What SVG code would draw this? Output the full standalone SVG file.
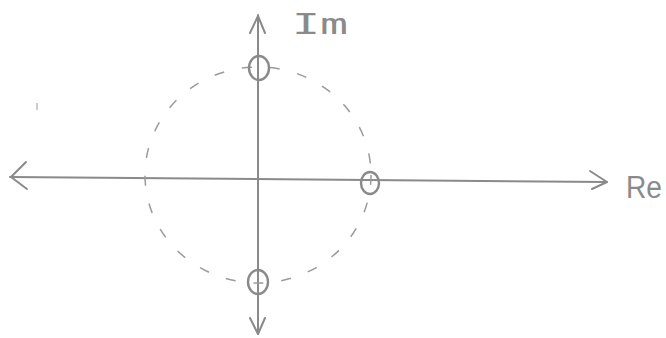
<svg xmlns="http://www.w3.org/2000/svg" width="666" height="338" viewBox="0 0 666 338">
<style>
.ax{stroke:#8a8a8a;stroke-width:2;fill:none;stroke-linecap:round;stroke-linejoin:round}
.uc{stroke:#9a9a9a;stroke-width:1.5;fill:none;stroke-dasharray:10 18}
.z{stroke:#8a8a8a;stroke-width:2.4;fill:none}
.lbl{fill:#8a8a8a}
</style>
<rect width="666" height="338" fill="#ffffff"/>
<g id="connectors">
<path class="ax" d="M10 177 L607 182"/>
<path class="ax" d="M26 162 L11 177 L27 189"/>
<path class="ax" d="M590 171 L607 182 L592 189"/>
<path class="ax" d="M258 15 L258 334"/>
<path class="ax" d="M250 33 L258 16 L265 33"/>
<path class="ax" d="M250 318 L258 334 L265 318"/>
</g>
<g id="unit-circle">
<ellipse class="uc" cx="258" cy="175" rx="113" ry="108"/>
</g>
<g id="zero-top"><ellipse class="z" cx="259" cy="68" rx="10" ry="12"/></g>
<g id="zero-right"><ellipse class="z" cx="370" cy="183" rx="9" ry="11"/></g>
<g id="zero-bottom"><ellipse class="z" cx="258" cy="282" rx="10" ry="12"/></g>
<g id="label-im"><text class="lbl" x="292" y="34" font-size="28" font-family="'DejaVu Sans Mono',monospace" textLength="56" lengthAdjust="spacingAndGlyphs">Im</text></g>
<g id="label-re"><text class="lbl" x="626" y="198" font-size="31" font-family="'Liberation Sans',sans-serif" textLength="36" lengthAdjust="spacingAndGlyphs">Re</text></g>
<path d="M37 103 L37 110" stroke="#bbbbbb" stroke-width="1.5"/>
</svg>
